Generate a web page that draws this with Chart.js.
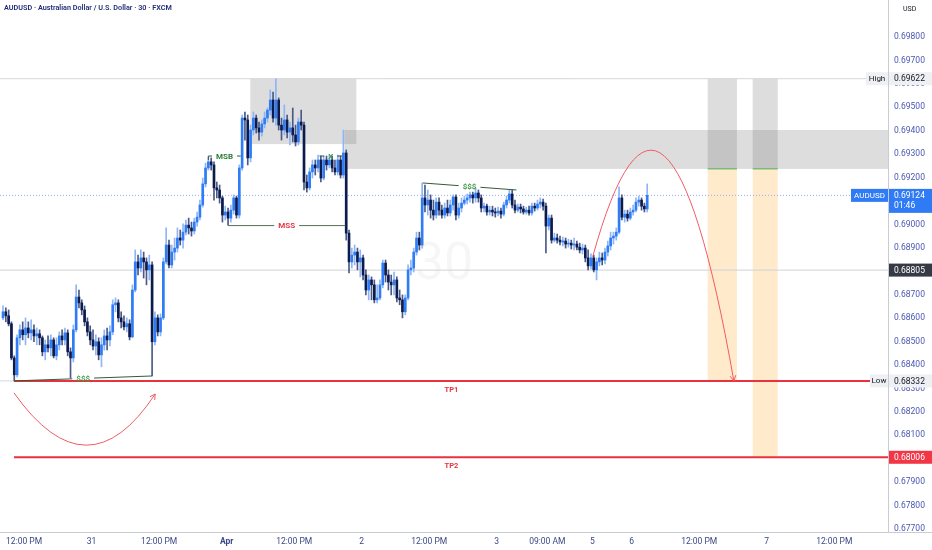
<!DOCTYPE html>
<html>
<head>
<meta charset="utf-8">
<script src="https://cdn.jsdelivr.net/npm/chart.js@4.4.1/dist/chart.umd.min.js"></script>
<style>
  html, body { margin: 0; padding: 0; background: #fff; }
  #wrap { width: 932px; height: 550px; }
</style>
</head>
<body>
<div id="wrap"><canvas id="chart" width="932" height="550"></canvas></div>
<script>
// AUDUSD 30m candles (bar index = one 30 minute candle)
const opens = [
  0.68601,0.68627,0.68610,0.68576,0.68430,0.68358,0.68516,0.68550,0.68529,0.68558,
  0.68537,0.68550,0.68524,0.68533,0.68516,0.68456,0.68486,0.68473,0.68507,0.68439,
  0.68486,0.68524,0.68507,0.68537,0.68456,0.68430,0.68550,0.68690,0.68665,0.68635,
  0.68584,0.68541,0.68507,0.68481,0.68499,0.68443,0.68486,0.68524,0.68507,0.68541,
  0.68657,0.68665,0.68601,0.68584,0.68563,0.68576,0.68520,0.68720,0.68840,0.68814,
  0.68857,0.68840,0.68806,0.68827,0.68499,0.68601,0.68541,0.68601,0.68840,0.68912,
  0.68827,0.68882,0.68899,0.68942,0.68933,0.68967,0.68997,0.68985,0.68972,0.69010,
  0.69031,0.69083,0.69173,0.69241,0.69267,0.69254,0.69156,0.69147,0.69113,0.69040,
  0.69053,0.69027,0.69061,0.69113,0.69040,0.69241,0.69454,0.69446,0.69284,0.69403,
  0.69454,0.69412,0.69394,0.69429,0.69454,0.69488,0.69531,0.69454,0.69531,0.69424,
  0.69403,0.69446,0.69394,0.69412,0.69382,0.69352,0.69437,0.69424,0.69181,0.69156,
  0.69224,0.69254,0.69241,0.69275,0.69198,0.69275,0.69254,0.69275,0.69241,0.69224,
  0.69275,0.69211,0.69305,0.68963,0.68840,0.68869,0.68882,0.68840,0.68857,0.68784,
  0.68720,0.68763,0.68742,0.68678,0.68686,0.68742,0.68835,0.68784,0.68754,0.68742,
  0.68763,0.68686,0.68678,0.68627,0.68686,0.68806,0.68814,0.68882,0.68942,0.68912,
  0.69113,0.69083,0.69104,0.69061,0.69040,0.69095,0.69061,0.69040,0.69070,0.69049,
  0.69083,0.69117,0.69040,0.69070,0.69091,0.69104,0.69113,0.69126,0.69113,0.69134,
  0.69113,0.69070,0.69078,0.69053,0.69061,0.69053,0.69049,0.69057,0.69044,0.69083,
  0.69104,0.69130,0.69083,0.69061,0.69074,0.69066,0.69053,0.69061,0.69049,0.69078,
  0.69070,0.69087,0.69095,0.69078,0.68993,0.69027,0.68933,0.68942,0.68933,0.68925,
  0.68929,0.68916,0.68920,0.68912,0.68916,0.68903,0.68891,0.68899,0.68857,0.68823,
  0.68857,0.68806,0.68840,0.68857,0.68848,0.68882,0.68908,0.68942,0.68950,0.68967,
  0.69113,0.69031,0.69044,0.69027,0.69053,0.69061,0.69095,0.69104,0.69078,0.69066
];
const highs = [
  0.68652,0.68644,0.68635,0.68584,0.68439,0.68529,0.68571,0.68584,0.68601,0.68584,
  0.68593,0.68571,0.68558,0.68550,0.68524,0.68507,0.68524,0.68529,0.68516,0.68516,
  0.68541,0.68550,0.68558,0.68550,0.68473,0.68571,0.68742,0.68720,0.68678,0.68652,
  0.68601,0.68567,0.68550,0.68529,0.68516,0.68516,0.68550,0.68558,0.68567,0.68678,
  0.68686,0.68678,0.68627,0.68610,0.68601,0.68593,0.68742,0.68891,0.68869,0.68891,
  0.68882,0.68857,0.68869,0.68840,0.68627,0.68614,0.68618,0.68857,0.68985,0.68933,
  0.68912,0.68942,0.68985,0.68976,0.69002,0.69019,0.69027,0.69010,0.69027,0.69053,
  0.69104,0.69198,0.69262,0.69288,0.69284,0.69267,0.69181,0.69168,0.69121,0.69078,
  0.69070,0.69083,0.69126,0.69121,0.69254,0.69467,0.69480,0.69467,0.69424,0.69480,
  0.69467,0.69437,0.69446,0.69480,0.69497,0.69574,0.69565,0.69622,0.69540,0.69454,
  0.69510,0.69467,0.69437,0.69497,0.69424,0.69454,0.69488,0.69437,0.69211,0.69241,
  0.69275,0.69275,0.69296,0.69292,0.69292,0.69292,0.69296,0.69292,0.69275,0.69296,
  0.69292,0.69403,0.69318,0.68976,0.68899,0.68912,0.68899,0.68891,0.68869,0.68806,
  0.68784,0.68776,0.68763,0.68742,0.68763,0.68848,0.68848,0.68806,0.68784,0.68797,
  0.68776,0.68720,0.68699,0.68699,0.68827,0.68848,0.68899,0.68967,0.68967,0.69177,
  0.69168,0.69147,0.69126,0.69104,0.69113,0.69113,0.69083,0.69091,0.69104,0.69104,
  0.69126,0.69126,0.69091,0.69113,0.69121,0.69130,0.69138,0.69138,0.69156,0.69147,
  0.69126,0.69091,0.69087,0.69078,0.69078,0.69070,0.69074,0.69070,0.69095,0.69121,
  0.69147,0.69147,0.69104,0.69087,0.69087,0.69078,0.69074,0.69078,0.69091,0.69091,
  0.69104,0.69113,0.69108,0.69091,0.69040,0.69040,0.68963,0.68959,0.68950,0.68946,
  0.68942,0.68937,0.68933,0.68942,0.68929,0.68920,0.68916,0.68912,0.68891,0.68874,
  0.68869,0.68857,0.68882,0.68878,0.68899,0.68929,0.68967,0.68967,0.68985,0.69160,
  0.69126,0.69061,0.69061,0.69070,0.69083,0.69113,0.69121,0.69113,0.69091,0.69173
];
const lows = [
  0.68593,0.68584,0.68567,0.68422,0.68332,0.68349,0.68486,0.68507,0.68486,0.68516,
  0.68507,0.68499,0.68486,0.68486,0.68439,0.68422,0.68456,0.68439,0.68430,0.68422,
  0.68464,0.68486,0.68486,0.68439,0.68345,0.68413,0.68541,0.68644,0.68614,0.68567,
  0.68524,0.68486,0.68464,0.68443,0.68422,0.68392,0.68464,0.68464,0.68481,0.68529,
  0.68627,0.68584,0.68558,0.68550,0.68541,0.68507,0.68516,0.68712,0.68784,0.68797,
  0.68771,0.68742,0.68763,0.68353,0.68486,0.68524,0.68524,0.68593,0.68831,0.68814,
  0.68814,0.68848,0.68882,0.68912,0.68899,0.68955,0.68959,0.68950,0.68959,0.68993,
  0.69019,0.69074,0.69160,0.69232,0.69232,0.69104,0.69113,0.69091,0.69010,0.69019,
  0.68997,0.69010,0.69044,0.69027,0.69027,0.69232,0.69360,0.69254,0.69267,0.69382,
  0.69390,0.69360,0.69377,0.69412,0.69437,0.69467,0.69437,0.69424,0.69403,0.69360,
  0.69382,0.69369,0.69339,0.69352,0.69335,0.69339,0.69403,0.69147,0.69138,0.69147,
  0.69198,0.69211,0.69224,0.69181,0.69190,0.69232,0.69241,0.69224,0.69211,0.69211,
  0.69198,0.69198,0.68933,0.68793,0.68814,0.68827,0.68806,0.68776,0.68763,0.68699,
  0.68678,0.68678,0.68665,0.68665,0.68678,0.68729,0.68754,0.68720,0.68699,0.68699,
  0.68669,0.68657,0.68601,0.68614,0.68678,0.68784,0.68797,0.68869,0.68891,0.68899,
  0.69053,0.69040,0.69027,0.69019,0.69027,0.69040,0.69027,0.69027,0.69036,0.69036,
  0.69061,0.69019,0.69027,0.69053,0.69083,0.69087,0.69095,0.69091,0.69095,0.69095,
  0.69053,0.69053,0.69040,0.69040,0.69036,0.69031,0.69036,0.69027,0.69036,0.69070,
  0.69091,0.69070,0.69049,0.69053,0.69049,0.69044,0.69044,0.69040,0.69040,0.69057,
  0.69061,0.69070,0.69061,0.68878,0.68976,0.68920,0.68925,0.68920,0.68912,0.68908,
  0.68899,0.68903,0.68895,0.68891,0.68891,0.68878,0.68874,0.68840,0.68806,0.68810,
  0.68797,0.68763,0.68823,0.68827,0.68831,0.68865,0.68891,0.68916,0.68933,0.68959,
  0.69019,0.69010,0.69014,0.69019,0.69040,0.69053,0.69078,0.69061,0.69053,0.69053
];
const closes = [
  0.68627,0.68610,0.68576,0.68430,0.68358,0.68516,0.68550,0.68529,0.68558,0.68537,
  0.68550,0.68524,0.68533,0.68516,0.68456,0.68486,0.68473,0.68507,0.68439,0.68486,
  0.68524,0.68507,0.68537,0.68456,0.68430,0.68550,0.68690,0.68665,0.68635,0.68584,
  0.68541,0.68507,0.68481,0.68499,0.68443,0.68486,0.68524,0.68507,0.68541,0.68657,
  0.68665,0.68601,0.68584,0.68563,0.68576,0.68520,0.68720,0.68840,0.68814,0.68857,
  0.68840,0.68806,0.68827,0.68499,0.68601,0.68541,0.68601,0.68840,0.68912,0.68827,
  0.68882,0.68899,0.68942,0.68933,0.68967,0.68997,0.68985,0.68972,0.69010,0.69031,
  0.69083,0.69173,0.69241,0.69267,0.69254,0.69156,0.69147,0.69113,0.69040,0.69053,
  0.69027,0.69061,0.69113,0.69040,0.69241,0.69454,0.69446,0.69284,0.69403,0.69454,
  0.69412,0.69394,0.69429,0.69454,0.69488,0.69531,0.69454,0.69531,0.69424,0.69403,
  0.69446,0.69394,0.69412,0.69382,0.69352,0.69437,0.69424,0.69181,0.69156,0.69224,
  0.69254,0.69241,0.69275,0.69198,0.69275,0.69254,0.69275,0.69241,0.69224,0.69275,
  0.69211,0.69305,0.68963,0.68840,0.68869,0.68882,0.68840,0.68857,0.68784,0.68720,
  0.68763,0.68742,0.68678,0.68686,0.68742,0.68835,0.68784,0.68754,0.68742,0.68763,
  0.68686,0.68678,0.68627,0.68686,0.68806,0.68814,0.68882,0.68942,0.68912,0.69113,
  0.69083,0.69104,0.69061,0.69040,0.69095,0.69061,0.69040,0.69070,0.69049,0.69083,
  0.69117,0.69040,0.69070,0.69091,0.69104,0.69113,0.69126,0.69113,0.69134,0.69113,
  0.69070,0.69078,0.69053,0.69061,0.69053,0.69049,0.69057,0.69044,0.69083,0.69104,
  0.69130,0.69083,0.69061,0.69074,0.69066,0.69053,0.69061,0.69049,0.69078,0.69070,
  0.69087,0.69095,0.69078,0.68993,0.69027,0.68933,0.68942,0.68933,0.68925,0.68929,
  0.68916,0.68920,0.68912,0.68916,0.68903,0.68891,0.68899,0.68857,0.68823,0.68857,
  0.68806,0.68840,0.68857,0.68848,0.68882,0.68908,0.68942,0.68950,0.68967,0.69113,
  0.69031,0.69044,0.69027,0.69053,0.69061,0.69095,0.69104,0.69078,0.69066,0.69124
];

// time axis: bar index of each label and its text
const timeTickIdx = [7.5, 31.5, 55.5, 79.5, 103.5, 127.5, 151.5, 175.5, 193.5, 209.5, 223.5, 247.5, 271.5, 295.5];
const timeTickLabels = ['12:00 PM', '31', '12:00 PM', 'Apr', '12:00 PM', '2', '12:00 PM', '3', '09:00 AM', '5', '6', '12:00 PM', '7', '12:00 PM'];
const priceTicks = [0.677, 0.678, 0.679, 0.680, 0.681, 0.682, 0.683, 0.684, 0.685, 0.686, 0.687,
                    0.688, 0.689, 0.690, 0.691, 0.692, 0.693, 0.694, 0.695, 0.696, 0.697, 0.698];

// key levels
const highPrice = 0.69622;
const lowPrice = 0.68332;
const lastPrice = 0.69124;
const prevClose = 0.68805;
const tp2Price = 0.68006;

const UP = '#2e7cf6', UP_WICK = '#8fb5f6';
const DOWN = '#0c1b4d', DOWN_WICK = '#4a5987';
const FONT = 'Roboto, "Liberation Sans", sans-serif';

const idx = opens.map((_, i) => i);
const wickData = idx.map(i => ({ x: i, y: [lows[i], highs[i]] }));
const bodyData = idx.map(i => ({ x: i, y: [opens[i], closes[i]] }));
const isUp = idx.map(i => closes[i] >= opens[i]);

function line(ctx, x1, y1, x2, y2, color, w, dash) {
  ctx.save();
  ctx.strokeStyle = color;
  ctx.lineWidth = w || 1;
  ctx.setLineDash(dash || []);
  ctx.beginPath();
  ctx.moveTo(x1, y1);
  ctx.lineTo(x2, y2);
  ctx.stroke();
  ctx.restore();
}

// line with a text label sitting in a gap at its middle
function labeledLine(ctx, x1, y1, x2, y2, text, textColor, lineColor) {
  ctx.save();
  ctx.font = 'bold 8px ' + FONT;
  const tw = ctx.measureText(text).width + 8;
  const mx = (x1 + x2) / 2, my = (y1 + y2) / 2;
  const len = Math.hypot(x2 - x1, y2 - y1);
  const f = (tw / 2) / len;
  line(ctx, x1, y1, mx - (x2 - x1) * f, my - (y2 - y1) * f, lineColor, 1);
  line(ctx, mx + (x2 - x1) * f, my + (y2 - y1) * f, x2, y2, lineColor, 1);
  ctx.fillStyle = textColor;
  ctx.textAlign = 'center';
  ctx.textBaseline = 'middle';
  ctx.fillText(text, mx, my + 0.5);
  ctx.restore();
}

function arrowHead(ctx, fx, fy, tx, ty, color) {
  const a = Math.atan2(ty - fy, tx - fx);
  ctx.save();
  ctx.strokeStyle = color;
  ctx.lineWidth = 1;
  ctx.beginPath();
  ctx.moveTo(tx - 6 * Math.cos(a - 0.5), ty - 6 * Math.sin(a - 0.5));
  ctx.lineTo(tx, ty);
  ctx.lineTo(tx - 6 * Math.cos(a + 0.5), ty - 6 * Math.sin(a + 0.5));
  ctx.stroke();
  ctx.restore();
}

const overlay = {
  id: 'overlay',
  beforeDatasetsDraw(chart) {
    const { ctx, chartArea: ca, scales: { x, y } } = chart;
    const X = v => x.getPixelForValue(v), Y = v => y.getPixelForValue(v);
    ctx.save();
    ctx.beginPath();
    ctx.rect(ca.left, ca.top, ca.right - ca.left, ca.bottom - ca.top);
    ctx.clip();

    // watermark
    ctx.fillStyle = 'rgba(0,0,0,0.035)';
    ctx.font = '52px ' + FONT;
    ctx.textAlign = 'center';
    ctx.textBaseline = 'middle';
    ctx.fillText('30', (ca.left + ca.right) / 2, (ca.top + ca.bottom) / 2);

    // supply zones
    const zone = 'rgba(128,128,128,0.27)';
    ctx.fillStyle = zone;
    ctx.fillRect(X(87.9), Y(highPrice), X(125.6) - X(87.9), Y(0.69343) - Y(highPrice));
    ctx.fillRect(X(121.4), Y(0.69403), ca.right - X(121.4), Y(0.69237) - Y(0.69403));
    [[250.5, 260.9, lowPrice], [266.5, 275.4, tp2Price]].forEach(([a, b, tgt]) => {
      ctx.fillStyle = zone;
      ctx.fillRect(X(a), Y(highPrice), X(b) - X(a), Y(0.69237) - Y(highPrice));
      ctx.fillStyle = 'rgba(255,152,0,0.2)';
      ctx.fillRect(X(a), Y(0.69237), X(b) - X(a), Y(tgt) - Y(0.69237));
      line(ctx, X(a), Y(0.69237), X(b), Y(0.69237), '#4caf50', 1);
    });

    // horizontal levels
    line(ctx, ca.left, Y(highPrice), ca.right, Y(highPrice), '#d4d6dc', 1);
    line(ctx, ca.left, Y(prevClose), ca.right, Y(prevClose), '#cfd2d8', 1);
    line(ctx, ca.left, Y(lowPrice), ca.right, Y(lowPrice), '#d4d6dc', 1);
    line(ctx, ca.left, Y(lastPrice), ca.right, Y(lastPrice), '#8fb0f2', 1, [1, 2]);
    ctx.restore();
  },
  afterDatasetsDraw(chart) {
    const { ctx, chartArea: ca, scales: { x, y } } = chart;
    const X = v => x.getPixelForValue(v), Y = v => y.getPixelForValue(v);
    ctx.save();
    ctx.beginPath();
    ctx.rect(ca.left, ca.top, ca.right - ca.left, ca.bottom - ca.top);
    ctx.clip();

    // targets
    const red = '#e8323f';
    line(ctx, X(3.9), Y(lowPrice), ca.right, Y(lowPrice), red, 2);
    line(ctx, X(3.9), Y(tp2Price), ca.right, Y(tp2Price), red, 2);
    ctx.font = 'bold 7.5px ' + FONT;
    ctx.fillStyle = red;
    ctx.textAlign = 'center';
    ctx.textBaseline = 'middle';
    ctx.fillText('TP1', X(159.4), Y(lowPrice) + 9);
    ctx.fillText('TP2', X(159.4), Y(tp2Price) + 9);

    // structure labels
    const dg = '#35593a';
    labeledLine(ctx, X(4), Y(0.68332), X(53), Y(0.68353), '$$$', '#3f9a45', dg);
    labeledLine(ctx, X(149.2), Y(0.69177), X(182.5), Y(0.69147), '$$$', '#3f9a45', dg);
    labeledLine(ctx, X(80), Y(0.68995), X(121.7), Y(0.68995), 'MSS', '#e53945', '#56705a');
    labeledLine(ctx, X(73), Y(0.69292), X(84.5), Y(0.69292), 'MSB', '#2f7d34', dg);
    line(ctx, X(73), Y(0.69292), X(73), Y(0.69292) + 4, dg, 1);
    labeledLine(ctx, X(112.5), Y(0.69292), X(120.5), Y(0.69292), 'X', '#3f9a45', dg);

    // projected paths
    const curve = '#ef5b66';
    ctx.strokeStyle = curve;
    ctx.lineWidth = 1;
    const a0 = [X(3.9), Y(0.68281)], a1 = [X(30), Y(0.67837)], a2 = [X(54.1), Y(0.68276)];
    ctx.beginPath();
    ctx.moveTo(a0[0], a0[1]);
    ctx.quadraticCurveTo(a1[0], a1[1], a2[0], a2[1]);
    ctx.stroke();
    arrowHead(ctx, a1[0], a1[1], a2[0], a2[1], curve);

    const b0 = [X(209.6), Y(0.68861)], b1 = [X(235.5), Y(0.69987)], b2 = [X(259.8), Y(lowPrice)];
    ctx.beginPath();
    ctx.moveTo(b0[0], b0[1]);
    ctx.quadraticCurveTo(b1[0], b1[1], b2[0], b2[1]);
    ctx.stroke();
    arrowHead(ctx, b1[0], b1[1], b2[0], b2[1], curve);
    ctx.restore();
  },
  afterDraw(chart) {
    const { ctx, chartArea: ca, scales: { y } } = chart;
    const Y = v => y.getPixelForValue(v);
    const W = chart.width;
    ctx.save();

    // bottom separator through the price axis
    line(ctx, ca.right, ca.bottom + 0.5, W, ca.bottom + 0.5, '#c9ccd3', 1);

    // title
    ctx.font = '600 7.25px ' + FONT;
    ctx.fillStyle = '#1f2d78';
    ctx.textAlign = 'left';
    ctx.textBaseline = 'middle';
    ctx.fillText('AUDUSD · Australian Dollar / U.S. Dollar · 30 · FXCM', 4, 8.5);

    ctx.font = '7px ' + FONT;
    ctx.fillStyle = '#131722';
    ctx.fillText('USD', ca.right + 15, 9.5);

    // price-axis badges
    const bx = ca.right + 1, bw = W - bx;
    function badge(p, text, bg, fg, h) {
      const yy = Y(p);
      ctx.fillStyle = bg;
      ctx.fillRect(bx, yy - 6.5, bw, h || 13);
      ctx.fillStyle = fg;
      ctx.font = '8.5px ' + FONT;
      ctx.textAlign = 'left';
      ctx.fillText(text, bx + 5, yy + 0.5);
    }
    function tag(p, text, bg, fg, w) {
      const yy = Y(p);
      ctx.fillStyle = bg;
      ctx.fillRect(ca.right - w, yy - 6.5, w, 13);
      ctx.fillStyle = fg;
      ctx.font = '8px ' + FONT;
      ctx.textAlign = 'center';
      ctx.fillText(text, ca.right - w / 2, yy + 0.5);
    }
    badge(highPrice, '0.69622', '#eef0f4', '#131722');
    tag(highPrice, 'High', '#eef0f4', '#131722', 22);
    badge(lowPrice, '0.68332', '#eef0f4', '#131722');
    tag(lowPrice, 'Low', '#eef0f4', '#131722', 18);
    badge(prevClose, '0.68805', '#363a45', '#ffffff');
    badge(tp2Price, '0.68006', '#f23645', '#ffffff');
    badge(lastPrice, '0.69124', '#2f7bf5', '#ffffff', 24);
    ctx.fillText('01:46', bx + 5, Y(lastPrice) + 10.5);
    tag(lastPrice, 'AUDUSD', '#2f7bf5', '#ffffff', 37);
    ctx.restore();
  }
};

new Chart(document.getElementById('chart'), {
  type: 'bar',
  data: {
    datasets: [
      { label: 'wicks', data: wickData, backgroundColor: idx.map(i => isUp[i] ? UP_WICK : DOWN_WICK),
        barThickness: 1, grouped: false, order: 2 },
      { label: 'bodies', data: bodyData, backgroundColor: idx.map(i => isUp[i] ? UP : DOWN),
        barThickness: 2, minBarLength: 1, grouped: false, order: 1 }
    ]
  },
  options: {
    responsive: false,
    animation: false,
    events: [],
    layout: { padding: 0 },
    plugins: { legend: { display: false }, tooltip: { enabled: false } },
    scales: {
      x: {
        type: 'linear',
        min: -1.07,
        max: 314.6,
        offset: false,
        grid: { display: false, drawTicks: false },
        border: { color: '#c9ccd3' },
        ticks: {
          autoSkip: false,
          maxRotation: 0,
          padding: 5,
          color: '#3b4785',
          font: ctx => ({ family: FONT, size: 8.5, weight: ctx.tick && ctx.tick.label === 'Apr' ? 'bold' : 'normal' }),
          callback: (v, i) => timeTickLabels[i]
        },
        afterBuildTicks: s => { s.ticks = timeTickIdx.map(v => ({ value: v })); },
        afterFit: s => { s.height = 18; s.paddingLeft = 0; s.paddingRight = 0; }
      },
      y: {
        position: 'right',
        min: 0.67687,
        max: 0.69958,
        grid: { display: false, drawTicks: false },
        border: { color: '#c9ccd3' },
        ticks: {
          padding: 6,
          color: '#4a56b0',
          font: { family: FONT, size: 8.5 },
          callback: v => v.toFixed(5)
        },
        afterBuildTicks: s => { s.ticks = priceTicks.map(v => ({ value: v })); },
        afterFit: s => { s.width = 44; s.paddingTop = 0; s.paddingBottom = 0; }
      }
    }
  },
  plugins: [overlay]
});
</script>
</body>
</html>
